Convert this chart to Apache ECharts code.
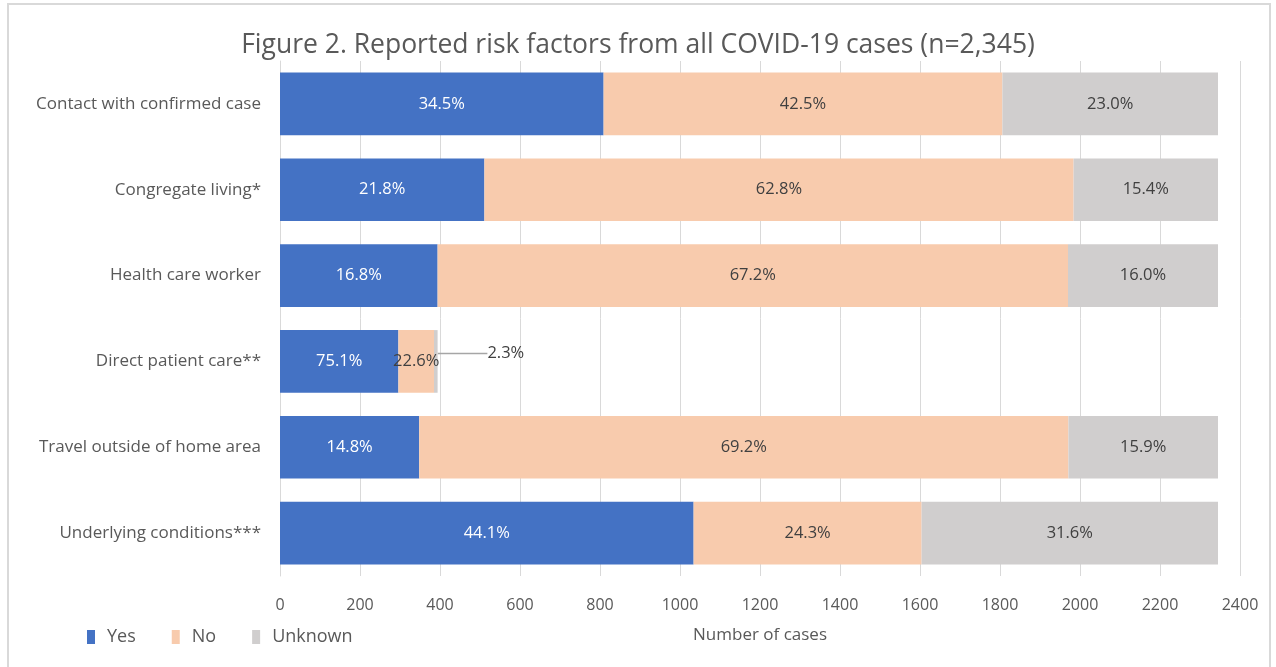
<!DOCTYPE html>
<html><head><meta charset="utf-8">
<script src="https://cdn.jsdelivr.net/npm/echarts@6/dist/echarts.min.js"></script>
<style>html,body{margin:0;padding:0;background:#fff}#c{width:1276px;height:667px}</style>
</head><body><div id="c"></div>
<script>
const categories = ["Contact with confirmed case","Congregate living*","Health care worker","Direct patient care**","Travel outside of home area","Underlying conditions***"];
const yesValues = [809, 511, 394, 296, 348, 1034];
const noValues = [997, 1473, 1576, 89, 1623, 570];
const unknownValues = [539, 361, 375, 9, 374, 741];
const xTicks = [0, 200, 400, 600, 800, 1000, 1200, 1400, 1600, 1800, 2000, 2200, 2400];

const totals = categories.map((c,i)=>yesValues[i]+noValues[i]+unknownValues[i]);
const FONT = "Open Sans";
function pct(p){ return (p.value/totals[p.dataIndex]*100).toFixed(1)+'%'; }

const chart = echarts.init(document.getElementById('c'));
function mk(name, data, color, labelColor){
  return {
    name, type:'bar', stack:'all', data, barCategoryGap:'27%',
    itemStyle:{color},
    label:{show:true, position:'inside', formatter:pct, color:labelColor, fontFamily:FONT, fontSize:16.5},
    emphasis:{disabled:true}
  };
}
const sYes = mk('Yes', yesValues, '#4472C4', '#ffffff');
const sNo = mk('No', noValues, '#F8CBAD', '#404040');
const sUnk = mk('Unknown', unknownValues, '#D0CECE', '#404040');
sUnk.labelLayout = function(p){
  if (p.dataIndex === 3) return {dx: 70, dy: -8};
  return {};
};
sUnk.labelLine = {show:true, lineStyle:{color:'#a6a6a6', width:1.5}};

chart.setOption({
  animation:false,
  backgroundColor:'#fff',
  title:{text:'Figure 2. Reported risk factors from all COVID-19 cases (n=2,345)', left:'center', top:27,
    textStyle:{fontFamily:FONT, fontSize:26.5, fontWeight:'normal', color:'#595959'}},
  legend:{left:82, top:623, itemWidth:8, itemHeight:14, itemGap:36, icon:'rect',
    textStyle:{fontFamily:FONT, fontSize:18, color:'#595959', padding:[0,0,0,7]}, selectedMode:false},
  grid:{left:280, right:36, top:61, bottom:91},
  xAxis:{type:'value', min:0, max:2400, interval:200, name:'Number of cases', nameLocation:'middle', nameGap:51,
    nameTextStyle:{fontFamily:FONT, fontSize:17, color:'#595959'},
    axisLabel:{fontFamily:FONT, fontSize:16, color:'#595959', margin:21,
      formatter:v=>xTicks.includes(v)?String(v):''},
    splitLine:{lineStyle:{color:'#d9d9d9', width:1}}, axisLine:{show:false}, axisTick:{show:false}},
  yAxis:{type:'category', data:categories, inverse:true,
    axisLabel:{fontFamily:FONT, fontSize:17, color:'#595959', margin:19},
    axisLine:{lineStyle:{color:'#d9d9d9', width:1}}, axisTick:{show:false}},
  graphic:[{type:'rect', shape:{x:8, y:4, width:1262, height:670}, style:{fill:null, stroke:'#d9d9d9', lineWidth:2}, silent:true}],
  series:[sYes, sNo, sUnk]
});
</script></body></html>
